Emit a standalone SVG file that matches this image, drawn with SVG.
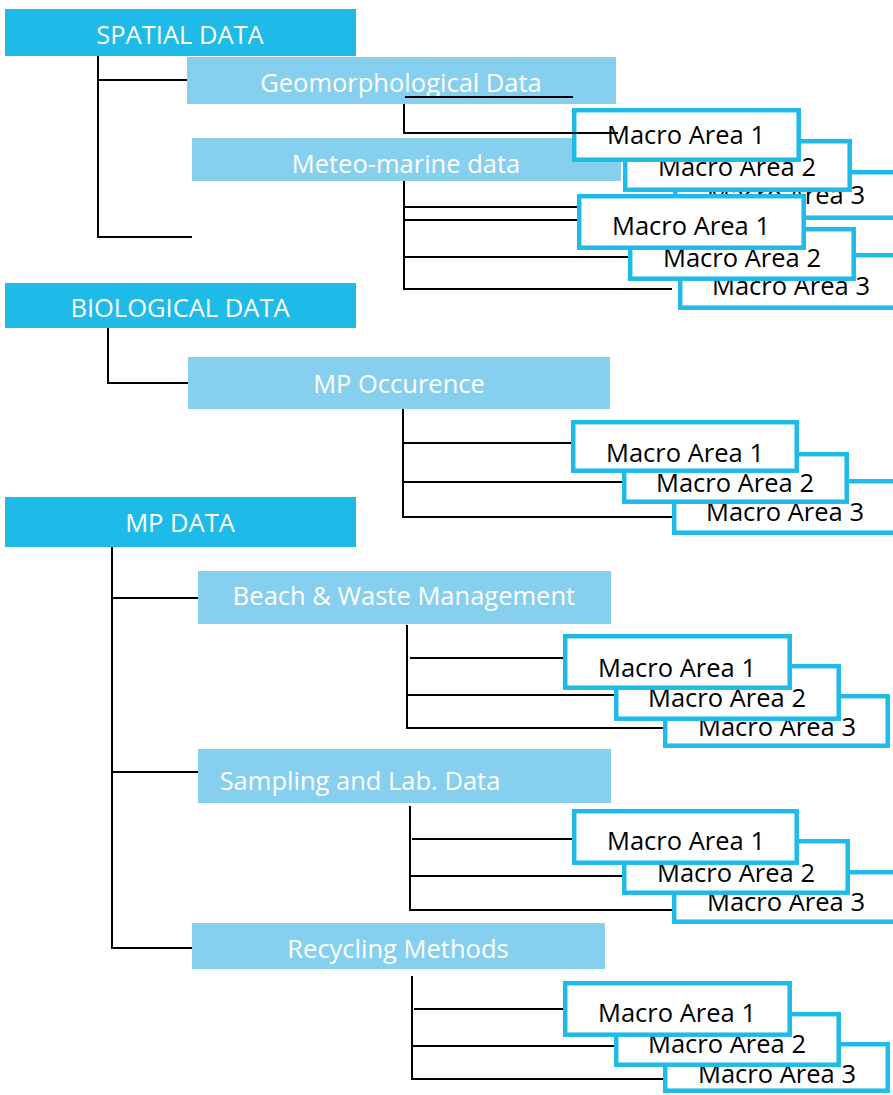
<svg xmlns="http://www.w3.org/2000/svg" width="893" height="1095" viewBox="0 0 893 1095">
<style>
.hd{fill:#1EBBE8}
.sub{fill:#87CFEF}
.wt{fill:#ffffff;font-family:"Open Sans","Noto Sans",sans-serif;font-size:25.5px;text-anchor:middle}
.ma{fill:#ffffff;stroke:#1EBBE8;stroke-width:4.5}
.mt{fill:#000000;font-family:"Open Sans","Noto Sans",sans-serif;font-size:25.5px;text-anchor:middle}
.cn{stroke:#000000;stroke-width:2;fill:none}
</style>
<rect width="893" height="1095" fill="#ffffff"/>
<g id="spatial"><rect class="hd" x="5" y="9" width="351" height="47"/><text class="wt" x="180" y="44">SPATIAL DATA</text></g>
<g id="geomorph"><rect class="sub" x="187" y="57" width="429" height="47"/><text class="wt" x="401" y="92">Geomorphological Data</text></g>
<g id="meteo"><rect class="sub" x="192" y="138" width="429" height="43"/><text class="wt" x="406" y="173">Meteo-marine data</text></g>
<g id="geo-macro">
<g id="geo-m3"><rect class="ma" x="675.2" y="172.2" width="224.5" height="45.5"/><text class="mt" x="786" y="204">Macro Area 3</text></g>
<g id="geo-m2"><rect class="ma" x="625.2" y="141.2" width="224.5" height="48.5"/><text class="mt" x="737" y="176">Macro Area 2</text></g>
<g id="geo-m1"><rect class="ma" x="574.2" y="110.2" width="224.5" height="49.5"/><text class="mt" x="686" y="144">Macro Area 1</text></g>
</g>
<g id="meteo-macro">
<g id="met-m3"><rect class="ma" x="680.2" y="255.2" width="225.5" height="52.5"/><text class="mt" x="791" y="295">Macro Area 3</text></g>
<g id="met-m2"><rect class="ma" x="630.2" y="229.2" width="223.5" height="49.5"/><text class="mt" x="742" y="267">Macro Area 2</text></g>
<g id="met-m1"><rect class="ma" x="579.2" y="196.2" width="224.5" height="51.5"/><text class="mt" x="691" y="235">Macro Area 1</text></g>
</g>
<g id="biological"><rect class="hd" x="5" y="283" width="351" height="45"/><text class="wt" x="180" y="317">BIOLOGICAL DATA</text></g>
<g id="occurence"><rect class="sub" x="188" y="357" width="422" height="52"/><text class="wt" x="399" y="393">MP Occurence</text></g>
<g id="occ-macro">
<g id="occ-m3"><rect class="ma" x="674.2" y="481.2" width="222.5" height="51.5"/><text class="mt" x="785" y="521">Macro Area 3</text></g>
<g id="occ-m2"><rect class="ma" x="624.2" y="454.2" width="222.5" height="47.5"/><text class="mt" x="735" y="492">Macro Area 2</text></g>
<g id="occ-m1"><rect class="ma" x="573.2" y="422.2" width="223.5" height="48.5"/><text class="mt" x="685" y="462">Macro Area 1</text></g>
</g>
<g id="mpdata"><rect class="hd" x="5" y="497" width="351" height="50"/><text class="wt" x="180" y="532">MP DATA</text></g>
<g id="beach"><rect class="sub" x="198" y="571" width="413" height="53"/><text class="wt" x="404" y="605">Beach &amp; Waste Management</text></g>
<g id="beach-macro">
<g id="bea-m3"><rect class="ma" x="665.2" y="696.2" width="222.5" height="49.5"/><text class="mt" x="777" y="736">Macro Area 3</text></g>
<g id="bea-m2"><rect class="ma" x="616.2" y="666.2" width="222.5" height="52.5"/><text class="mt" x="727" y="707">Macro Area 2</text></g>
<g id="bea-m1"><rect class="ma" x="565.2" y="636.2" width="224.5" height="51.5"/><text class="mt" x="677" y="677">Macro Area 1</text></g>
</g>
<g id="sampling"><rect class="sub" x="198" y="749" width="413" height="54"/><text class="wt" x="360" y="790">Sampling and Lab. Data</text></g>
<g id="sam-macro">
<g id="sam-m3"><rect class="ma" x="674.2" y="872.2" width="223.5" height="49.5"/><text class="mt" x="786" y="911">Macro Area 3</text></g>
<g id="sam-m2"><rect class="ma" x="624.2" y="841.2" width="223.5" height="51.5"/><text class="mt" x="736" y="882">Macro Area 2</text></g>
<g id="sam-m1"><rect class="ma" x="574.2" y="811.2" width="222.5" height="51.5"/><text class="mt" x="686" y="850">Macro Area 1</text></g>
</g>
<g id="recycling"><rect class="sub" x="192" y="923" width="413" height="46"/><text class="wt" x="398" y="958">Recycling Methods</text></g>
<g id="rec-macro">
<g id="rec-m3"><rect class="ma" x="665.2" y="1044.2" width="222.5" height="46.5"/><text class="mt" x="777" y="1083">Macro Area 3</text></g>
<g id="rec-m2"><rect class="ma" x="616.2" y="1014.2" width="222.5" height="50.5"/><text class="mt" x="727" y="1053">Macro Area 2</text></g>
<g id="rec-m1"><rect class="ma" x="565.2" y="983.2" width="224.5" height="51.5"/><text class="mt" x="677" y="1022">Macro Area 1</text></g>
</g>
<g id="connectors" class="cn">
<path class="cn" d="M98 56V237H192M98 80H187"/>
<path class="cn" d="M405 97H573M404 104V133H618"/>
<path class="cn" d="M404 181V290M404 207H577M404 220H577M404 257H628M404 289H672"/>
<path class="cn" d="M108 328V383H188"/>
<path class="cn" d="M403 409V517H672M403 443H571M403 482H622"/>
<path class="cn" d="M112 547V948H192M112 598H198M112 772H198"/>
<path class="cn" d="M407 625V728H663M410 658H563M407 695H614"/>
<path class="cn" d="M410 806V910H672M412 839H572M410 876H622"/>
<path class="cn" d="M412 976V1079H663M414 1009H563M412 1046H614"/>
</g>
</svg>
